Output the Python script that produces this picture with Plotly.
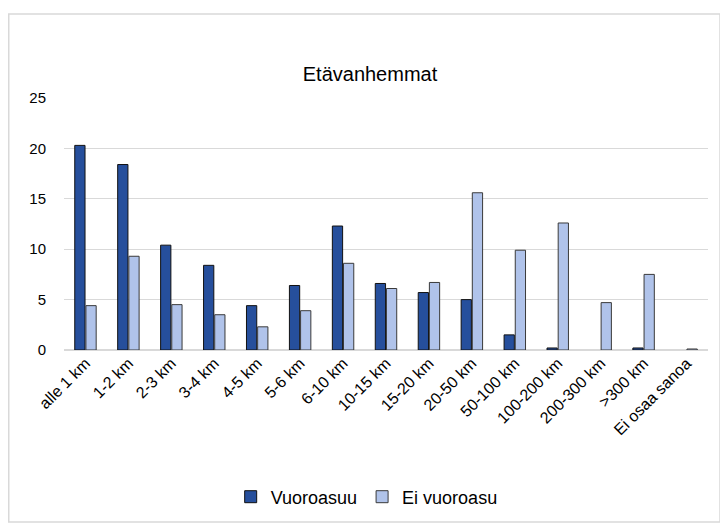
import plotly.graph_objects as go

categories = ["alle 1 km", "1-2 km", "2-3 km", "3-4 km", "4-5 km", "5-6 km", "6-10 km",
              "10-15 km", "15-20 km", "20-50 km", "50-100 km", "100-200 km", "200-300 km",
              ">300 km", "Ei osaa sanoa"]
vuoroasuu = [20.3, 18.4, 10.4, 8.4, 4.4, 6.4, 12.3, 6.6, 5.7, 5.0, 1.5, 0.2, None, 0.2, None]
ei_vuoroasu = [4.4, 9.3, 4.5, 3.5, 2.3, 3.9, 8.6, 6.1, 6.7, 15.6, 9.9, 12.6, 4.7, 7.5, 0.1]
y_ticks = [0, 5, 10, 15, 20, 25]

FONT = "Liberation Sans, Arial, sans-serif"

# page body adds an 8px offset; figure sized to fill the remaining window
W, H = 720, 521
PL, PR, PT, PB = 56, 700, 90, 342  # plot area in figure pixels
pw, ph = PR - PL, PB - PT

fig = go.Figure()
fig.add_trace(go.Bar(x=categories, y=vuoroasuu, name="Vuoroasuu",
                     marker=dict(color="#264f9c", line=dict(color="#111111", width=1))))
fig.add_trace(go.Bar(x=categories, y=ei_vuoroasu, name="Ei vuoroasu",
                     marker=dict(color="#b0c3ea", line=dict(color="#3a3a3a", width=1))))

fig.update_layout(
    width=W, height=H,
    margin=dict(l=PL, r=W - PR, t=PT, b=H - PB),
    paper_bgcolor="white", plot_bgcolor="white",
    font=dict(family=FONT, color="#000000", size=15),
    title=dict(text="Etävanhemmat", x=362 / W, xref="container", xanchor="center",
               y=1 - 66 / H, yanchor="middle", font=dict(size=20, family=FONT)),
    barmode="group", bargap=0.48, bargroupgap=0.08,
    showlegend=True,
    legend=dict(orientation="h", x=0.47, xanchor="center", y=(PB - 489) / ph,
                yanchor="middle", font=dict(size=18, family=FONT), itemwidth=30,
                traceorder="normal"),
    xaxis=dict(tickangle=-45, showgrid=False, showline=False, ticks="",
               tickfont=dict(size=16, family=FONT)),
    yaxis=dict(range=[0, 25], tickvals=y_ticks, showgrid=True, gridcolor="#d9d9d9",
               gridwidth=1, zeroline=True, zerolinecolor="#d9d9d9", zerolinewidth=1.5,
               ticks="", tickfont=dict(size=15, family=FONT), ticklabelstandoff=17),
    shapes=[dict(type="rect", xref="paper", yref="paper",
                 x0=(0.75 - PL) / pw, x1=(712 - PL) / pw,
                 y0=(PB - 514) / ph, y1=(PB - 6) / ph,
                 line=dict(color="#d9d9d9", width=1.5), fillcolor="rgba(0,0,0,0)",
                 layer="below")],
)

fig.write_html("out.html")
